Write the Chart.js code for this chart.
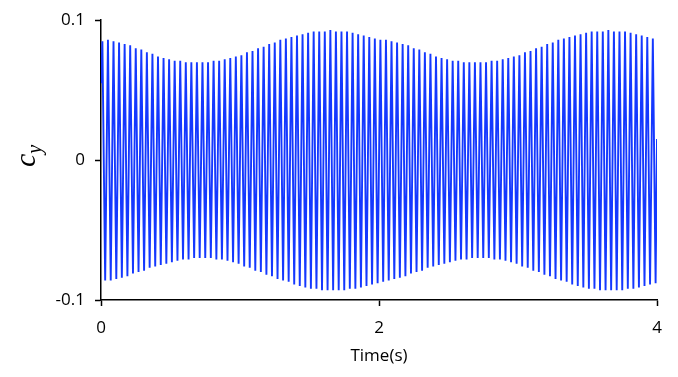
<!DOCTYPE html>
<html>
<head>
<meta charset="utf-8">
<script src="https://cdn.jsdelivr.net/npm/chart.js@4.4.0/dist/chart.umd.min.js"></script>
<style>
  html, body { margin: 0; padding: 0; background: #fff; }
  #wrap { width: 678px; height: 377px; }
</style>
</head>
<body>
<div id="wrap"><canvas id="cyChart"></canvas></div>
<script>
'use strict'

// one crest and one trough per cycle, ~25 cycles per second
const cyclePeriod = 0.04
const startValue = 0.055
const endValue = 0.015

const crests = [
  0.085, 0.086, 0.085, 0.084, 0.083, 0.082, 0.080, 0.079, 0.077, 0.076,
  0.074, 0.073, 0.072, 0.071, 0.071, 0.070, 0.070, 0.070, 0.070, 0.070,
  0.071, 0.071, 0.072, 0.073, 0.074, 0.075, 0.077, 0.078, 0.080, 0.081,
  0.083, 0.084, 0.086, 0.087, 0.088, 0.089, 0.090, 0.091, 0.092, 0.092,
  0.092, 0.093, 0.092, 0.092, 0.092, 0.091, 0.090, 0.089, 0.088, 0.087,
  0.086, 0.086, 0.085, 0.084, 0.083, 0.082, 0.080, 0.079, 0.077, 0.076,
  0.074, 0.073, 0.072, 0.071, 0.071, 0.070, 0.070, 0.070, 0.070, 0.070,
  0.071, 0.071, 0.072, 0.073, 0.074, 0.075, 0.077, 0.078, 0.080, 0.081,
  0.083, 0.084, 0.086, 0.087, 0.088, 0.089, 0.090, 0.091, 0.092, 0.092,
  0.092, 0.093, 0.092, 0.092, 0.092, 0.091, 0.090, 0.089, 0.088, 0.087
]

const troughs = [
  -0.086, -0.086, -0.085, -0.084, -0.083, -0.081, -0.080, -0.079, -0.077, -0.076,
  -0.075, -0.074, -0.073, -0.072, -0.071, -0.071, -0.070, -0.070, -0.070, -0.070,
  -0.071, -0.071, -0.072, -0.073, -0.074, -0.076, -0.077, -0.079, -0.080, -0.082,
  -0.083, -0.085, -0.086, -0.087, -0.089, -0.090, -0.091, -0.092, -0.092, -0.093,
  -0.093, -0.093, -0.093, -0.093, -0.092, -0.092, -0.091, -0.090, -0.089, -0.088,
  -0.087, -0.086, -0.085, -0.084, -0.083, -0.081, -0.080, -0.079, -0.077, -0.076,
  -0.075, -0.074, -0.073, -0.072, -0.071, -0.071, -0.070, -0.070, -0.070, -0.070,
  -0.071, -0.071, -0.072, -0.073, -0.074, -0.076, -0.077, -0.079, -0.080, -0.082,
  -0.083, -0.085, -0.086, -0.087, -0.089, -0.090, -0.091, -0.092, -0.092, -0.093,
  -0.093, -0.093, -0.093, -0.093, -0.092, -0.092, -0.091, -0.090, -0.089, -0.088
]

const xTicks = [0, 2, 4]
const yTicks = [-0.1, 0, 0.1]
const yTickLabels = ['-0.1', '0', '0.1']

// time series from the crest/trough lists
const points = [{ x: 0, y: startValue }]
crests.forEach((c, i) => {
  points.push({ x: i * cyclePeriod + cyclePeriod / 4, y: c })
  points.push({ x: i * cyclePeriod + cyclePeriod * 3 / 4, y: troughs[i] })
})
points.push({ x: 4, y: endValue })

const yTitle = {
  id: 'yTitle',
  afterDraw(chart) {
    const ctx = chart.ctx
    ctx.save()
    ctx.translate(35, 160)
    ctx.rotate(-Math.PI / 2)
    ctx.fillStyle = '#000'
    ctx.textBaseline = 'alphabetic'
    ctx.font = 'italic 30px "Liberation Serif", "DejaVu Serif", serif'
    const w = ctx.measureText('c').width
    ctx.fillText('c', -7, 0)
    ctx.font = 'italic 20px "Liberation Serif", "DejaVu Serif", serif'
    ctx.fillText('y', -7 + w, 6)
    ctx.restore()
  }
}

const tickFont = { family: '"Open Sans", "Liberation Sans", sans-serif', size: 17 }

new Chart(document.getElementById('cyChart'), {
  type: 'line',
  data: {
    datasets: [{
      data: points,
      borderColor: '#1438ff',
      borderWidth: 1.9,
      pointRadius: 0,
      tension: 0,
      fill: false
    }]
  },
  options: {
    responsive: true,
    maintainAspectRatio: false,
    animation: false,
    parsing: false,
    normalized: true,
    layout: { padding: { top: 20, right: 21, left: 0, bottom: 11 } },
    plugins: { legend: { display: false }, tooltip: { enabled: false } },
    scales: {
      x: {
        type: 'linear',
        min: 0,
        max: 4,
        afterBuildTicks(scale) { scale.ticks = xTicks.map(v => ({ value: v })) },
        ticks: { color: '#000', font: tickFont, padding: 12, maxRotation: 0 },
        grid: { drawOnChartArea: false, color: '#000', tickLength: 6, tickWidth: 1.5 },
        border: { color: '#000', width: 1.5 },
        title: { display: true, text: 'Time(s)', color: '#000', font: tickFont, padding: { top: 0, bottom: 0 } },
        afterFit(scale) { scale.height = 66 }
      },
      y: {
        min: -0.1,
        max: 0.1,
        afterBuildTicks(scale) { scale.ticks = yTicks.map(v => ({ value: v })) },
        ticks: {
          color: '#000',
          font: tickFont,
          padding: 10,
          callback(v) { return yTickLabels[yTicks.indexOf(v)] }
        },
        grid: { drawOnChartArea: false, color: '#000', tickLength: 6, tickWidth: 1.5 },
        border: { color: '#000', width: 1.5 },
        afterFit(scale) { scale.width = 101 }
      }
    }
  },
  plugins: [yTitle]
})
</script>
</body>
</html>
